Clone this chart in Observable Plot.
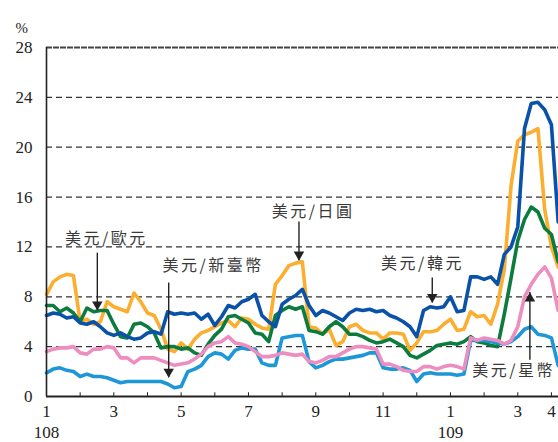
<!DOCTYPE html>
<html>
<head>
<meta charset="utf-8">
<script src="https://cdn.jsdelivr.net/npm/d3@7"></script>
<script src="https://cdn.jsdelivr.net/npm/@observablehq/plot@0.6"></script>
<style>
  html, body { margin: 0; padding: 0; background: #fff; }
  #chart { width: 558px; height: 442px; }
</style>
</head>
<body>
<div id="chart"></div>
<script>
// sampling grid in months since 108/1 (one sample every 0.2 month)
const months = d3.range(77).map(i => Math.round(i * 2) / 10);

const jpy = [8.2,9.2,9.6,9.8,9.7,6.0,6.2,5.8,6.0,7.6,
  7.2,7.0,6.8,8.3,7.6,6.7,6.5,5.4,3.8,3.6,
  4.3,3.8,4.6,5.1,5.3,5.6,5.9,6.1,5.6,6.3,
  6.2,5.8,5.5,5.4,9.0,9.7,10.5,10.7,10.8,5.6,
  5.5,5.0,5.4,4.1,4.4,5.6,5.8,5.3,5.1,5.1,
  4.6,5.1,5.1,5.0,3.7,4.3,5.2,5.2,5.3,5.8,
  6.2,5.3,5.4,6.8,6.4,6.5,5.8,7.4,10.2,16.9,
  20.5,21.0,21.2,21.5,15.0,12.0,10.4];
const krw = [6.5,6.7,6.6,6.3,6.4,5.9,5.8,6.0,5.6,5.1,
  4.9,5.1,4.8,4.6,4.7,5.1,5.2,5.0,6.8,6.6,
  6.7,6.6,6.7,6.2,6.6,5.7,6.4,7.3,7.1,7.6,
  7.8,8.2,6.5,6.0,5.6,7.4,7.8,8.1,8.6,7.3,
  6.5,6.9,6.7,6.4,6.1,6.7,7.0,6.9,7.0,6.8,
  6.9,6.5,6.3,6.0,5.6,4.8,6.9,7.2,7.1,7.2,
  8.0,6.8,6.9,9.6,9.6,9.4,9.6,9.0,11.4,12.0,
  13.6,21.5,23.5,23.6,23.0,21.8,14.0];
const eur = [7.3,7.3,6.8,7.1,6.7,6.0,7.1,6.8,6.9,6.9,
  5.8,4.8,4.7,5.8,5.9,5.6,5.1,3.9,4.0,4.0,
  3.8,3.9,3.5,3.3,4.2,4.9,5.4,6.4,6.5,6.2,
  5.9,5.1,5.0,4.4,6.5,6.9,7.2,7.0,7.2,5.3,
  5.2,5.0,5.6,6.0,5.6,5.0,5.0,4.8,4.5,4.3,
  4.4,4.6,4.3,4.0,3.3,3.1,3.4,3.7,4.1,4.2,
  4.3,4.2,4.4,4.8,4.4,4.3,4.1,4.0,6.6,9.5,
  12.5,14.2,15.2,14.8,13.5,13.0,10.8];
const sgd = [3.6,3.8,3.9,3.9,4.0,3.5,3.4,3.8,3.8,4.0,
  3.9,3.1,3.1,2.7,3.1,3.1,3.1,2.9,2.7,2.5,
  2.6,2.7,3.0,3.4,4.0,4.3,4.4,4.8,4.3,4.2,
  4.0,3.6,3.2,3.2,3.3,3.5,3.4,3.3,3.4,2.8,
  2.7,2.9,3.2,3.2,3.5,3.8,4.0,4.0,3.9,3.8,
  2.6,2.6,2.4,2.1,2.0,2.0,2.4,2.4,2.2,2.4,
  2.5,2.4,2.2,4.7,4.5,4.7,4.6,4.5,4.2,4.5,
  5.6,8.0,9.0,9.8,10.4,9.5,6.9];
const twd = [1.9,2.2,2.3,2.1,2.0,1.6,1.8,1.6,1.6,1.5,
  1.3,1.1,1.2,1.2,1.2,1.2,1.2,1.2,1.0,0.7,
  0.8,2.0,2.2,2.5,3.2,3.5,3.4,3.0,3.7,3.9,
  3.8,3.8,2.7,2.5,2.5,4.7,4.8,4.9,4.9,2.8,
  2.3,2.5,2.8,3.0,3.0,3.1,3.2,3.3,3.5,3.5,
  2.3,2.2,2.2,2.3,2.1,1.2,1.8,1.9,1.8,1.8,
  1.8,1.7,1.8,4.5,4.5,4.5,4.4,4.3,4.2,4.4,
  4.8,5.4,5.6,5.0,4.9,4.7,2.5];

const seriesNames = ["美元/日圓", "美元/歐元", "美元/韓元", "美元/新臺幣", "美元/星幣"];
const seriesValues = [jpy, eur, krw, twd, sgd];
const seriesColors = ["#FBAE30", "#0C7B3E", "#0A51A8", "#1E97D8", "#EE8DBF"];

const yTicks = [0, 4, 8, 12, 16, 20, 24, 28];
const monthTicks = [0,1,2,3,4,5,6,7,8,9,10,11,12,13,14,15];
const monthLabelTicks = [0, 2, 4, 6, 8, 10, 12, 14, 15];
const monthLabels = ["1", "3", "5", "7", "9", "11", "1", "3", "4"];
const yearTicks = [0, 12];
const yearLabels = ["108", "109"];

const annoText = ["美元/歐元", "美元/新臺幣", "美元/日圓", "美元/韓元", "美元/星幣"];
const annoTextX = [1.78, 4.95, 7.92, 11.17, 13.88];
const annoTextY = [12.68, 10.5, 14.85, 10.67, 2.09];
const arrowX = [1.51, 3.63, 7.50, 11.46, 14.36];
const arrowFrom = [11.5, 9.1, 14.0, 9.5, 2.9];
const arrowTo = [6.9, 1.5, 10.9, 7.5, 8.35];

const lineData = seriesNames.flatMap((name, s) =>
  months.map((m, i) => ({name, m, v: seriesValues[s][i]})));
const annos = annoText.map((t, i) => ({t, x: annoTextX[i], y: annoTextY[i]}));
const arrows = arrowX.map((x, i) => ({x, from: arrowFrom[i], to: arrowTo[i]}));

const serif = "'Liberation Serif', 'DejaVu Serif', serif";
const cjk = "'Noto Sans CJK TC', 'Noto Sans CJK SC', sans-serif";

const chart = Plot.plot({
  width: 558,
  height: 442,
  marginLeft: 46,
  marginRight: 0,
  marginTop: 47,
  marginBottom: 46,
  style: {fontFamily: serif, fontSize: "17px", background: "#fff", color: "#222"},
  x: {domain: [0, 15.21]},
  y: {domain: [0, 28]},
  color: {domain: seriesNames, range: seriesColors},
  marks: [
    Plot.ruleY(yTicks.filter(d => d > 0 && d < 28), {stroke: "#333", strokeWidth: 1.2, strokeDasharray: "6,4"}),
    Plot.ruleY(yTicks.filter(d => d === 28), {stroke: "#444", strokeWidth: 2, strokeDasharray: "6,1"}),
    Plot.line(lineData, {x: "m", y: "v", z: "name", stroke: "name", strokeWidth: 3.6, strokeLinejoin: "round", strokeLinecap: "round"}),
    Plot.ruleX([0], {y1: 0, y2: 28, stroke: "#222", strokeWidth: 1.6}),
    Plot.ruleY([0], {stroke: "#222", strokeWidth: 2}),
    Plot.ruleX(monthTicks, {y1: 0, y2: 0.3, stroke: "#222", strokeWidth: 1}),
    Plot.axisY(yTicks, {tickSize: 0, tickPadding: 14, label: null, fontSize: 17}),
    Plot.axisX(monthLabelTicks, {tickSize: 0, tickPadding: 8, label: null, fontSize: 17,
      tickFormat: d => monthLabels[monthLabelTicks.indexOf(d)]}),
    Plot.text(yearTicks, {x: d => d, text: (d, i) => yearLabels[i], frameAnchor: "bottom", dy: 41, fontSize: 17, fill: "#222"}),
    Plot.text(["%"], {frameAnchor: "top-left", dx: -31, dy: -25, fontSize: 15, fill: "#222"}),
    Plot.ruleX(arrows, {x: "x", y1: "from", y2: "to", stroke: "#222", strokeWidth: 1.4}),
    Plot.dot(arrows.filter(a => a.from > a.to), {x: "x", y: "to", symbol: "triangle", r: 3.9, fill: "#222", rotate: 180, dy: -6}),
    Plot.dot(arrows.filter(a => a.from < a.to), {x: "x", y: "to", symbol: "triangle", r: 3.9, fill: "#222", dy: 6}),
    Plot.text(annos, {x: "x", y: "y", text: "t", fontFamily: cjk, fontSize: 16, fill: "#3a3a3a"})
  ]
});

chart.querySelectorAll("text").forEach(t => {
  if (/[\u4e00-\u9fff]/.test(t.textContent)) t.setAttribute("letter-spacing", "2.5");
});
document.getElementById("chart").appendChild(chart);
</script>
</body>
</html>
